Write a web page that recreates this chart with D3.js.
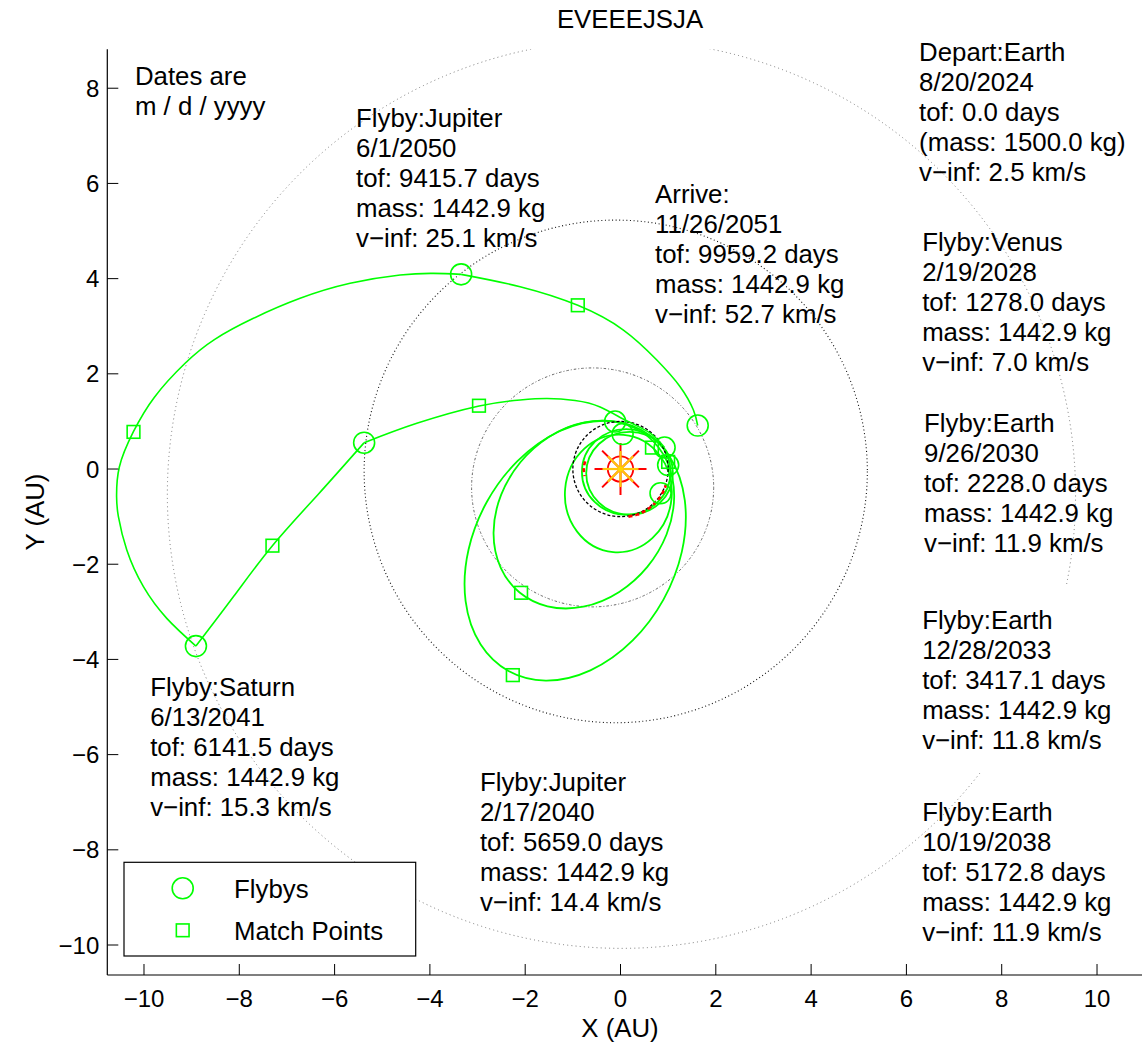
<!DOCTYPE html>
<html>
<head>
<meta charset="utf-8">
<script src="https://cdn.jsdelivr.net/npm/d3@7"></script>
<style>
  body { margin: 0; background: #fff; }
  text { font-family: "Liberation Sans", Arial, Helvetica, sans-serif; fill: #000; }
</style>
</head>
<body>
<svg id="chart" width="1142" height="1046"></svg>
<script>
// ---------------- data (heliocentric ecliptic, AU) ----------------
const title = "EVEEEJSJA";
const xTicks = [-10, -8, -6, -4, -2, 0, 2, 4, 6, 8, 10];
const yTicks = [-10, -8, -6, -4, -2, 0, 2, 4, 6, 8];

// encounter points: departure, flybys, arrival
const encounterX = [0.84, 0.044, 1.0, -0.113, 0.925, -5.38, -8.91, -3.345, 1.62];
const encounterY = [-0.51, 0.735, 0.084, 0.998, 0.452, 0.553, -3.72, 4.09, 0.914];

// leg match points
const matchX = [0.66, 1.0, -2.086, -2.26, -2.97, -7.305, -10.22, -0.896];
const matchY = [0.45, 0.15, -2.6, -4.33, 1.33, -1.61, 0.78, 3.44];

// multi-revolution inner legs, as orbit ellipses: centre, semi-axes, tilt (deg)
const loopCx = [0.19, 0.12, -0.045, -0.769, -0.951];
const loopCy = [-0.09, -0.06, -0.513, -0.957, -1.715];
const loopA = [0.91, 0.93, 1.235, 2.12, 2.888];
const loopB = [0.87, 0.90, 1.122, 1.728, 2.12];
const loopTilt = [0, 0, 85, 50.5, 61];

// outer legs
const legEarthJupiter = [[0.925, 0.452], [0.621, 0.756], [0.139, 1.008], [-0.428, 1.303], [-0.953, 1.439],
  [-1.54, 1.481], [-2.107, 1.45], [-2.967, 1.324], [-4.275, 0.96], [-5.38, 0.553]];
const legJupiterSaturn = [[-5.38, 0.553], [-6.342, -0.529], [-7.305, -1.611], [-8.109, -2.664], [-8.91, -3.72]];
const legSaturnJupiter = [[-8.91, -3.72], [-9.522, -3.137], [-10.012, -2.472], [-10.361, -1.702], [-10.537, -1.002],
  [-10.575, -0.582], [-10.516, 0.048], [-10.222, 0.784], [-9.777, 1.515], [-9.132, 2.227], [-8.515, 2.724],
  [-7.704, 3.166], [-6.724, 3.586], [-5.675, 3.901], [-4.625, 4.076], [-3.926, 4.111], [-3.345, 4.09]];
const legJupiterTarget = [[-3.345, 4.09], [-2.107, 3.83], [-0.896, 3.439], [0.061, 2.92], [0.762, 2.29],
  [1.251, 1.729], [1.53, 1.239], [1.62, 0.914]];

// thrusting arcs of the first leg
const thrustArcs = [
  [[-0.74, 0.16], [-0.765, 0.07], [-0.77, -0.03], [-0.755, -0.15]],
  [[0.166, -1.0], [0.35, -0.958], [0.51, -0.883], [0.656, -0.781], [0.78, -0.655], [0.88, -0.508], [0.97, -0.3]]
];

// body orbits: centre, radii
const earthOrbit = { cx: 0, cy: 0, rx: 1.0, ry: 1.0 };
const targetOrbit = { cx: -0.585, cy: -0.386, rx: 2.54, ry: 2.51 };
const jupiterOrbit = { cx: -0.1, cy: -0.05, rx: 5.28, ry: 5.28 };
// Saturn only moves through part of its orbit during the mission (angles in deg, CCW)
const saturnOrbit = { cx: 0.02, cy: -0.53, r: 9.53, fromDeg: -11.4, toDeg: 322.4 };

// annotation text
const noteLines = [
  ["Dates are", "m / d / yyyy"],
  ["Depart:Earth", "8/20/2024", "tof: 0.0 days", "(mass: 1500.0 kg)", "v\u2212inf: 2.5 km/s"],
  ["Flyby:Venus", "2/19/2028", "tof: 1278.0 days", "mass: 1442.9 kg", "v\u2212inf: 7.0 km/s"],
  ["Flyby:Earth", "9/26/2030", "tof: 2228.0 days", "mass: 1442.9 kg", "v\u2212inf: 11.9 km/s"],
  ["Flyby:Earth", "12/28/2033", "tof: 3417.1 days", "mass: 1442.9 kg", "v\u2212inf: 11.8 km/s"],
  ["Flyby:Earth", "10/19/2038", "tof: 5172.8 days", "mass: 1442.9 kg", "v\u2212inf: 11.9 km/s"],
  ["Flyby:Jupiter", "2/17/2040", "tof: 5659.0 days", "mass: 1442.9 kg", "v\u2212inf: 14.4 km/s"],
  ["Flyby:Saturn", "6/13/2041", "tof: 6141.5 days", "mass: 1442.9 kg", "v\u2212inf: 15.3 km/s"],
  ["Flyby:Jupiter", "6/1/2050", "tof: 9415.7 days", "mass: 1442.9 kg", "v\u2212inf: 25.1 km/s"],
  ["Arrive:", "11/26/2051", "tof: 9959.2 days", "mass: 1442.9 kg", "v\u2212inf: 52.7 km/s"]
];
const legendLabels = ["Flybys", "Match Points"];

// ---------------- layout ----------------
const W = 1142, H = 1046;
const plot = { left: 107.3, top: 49.2, right: 1154.2, bottom: 975 };
// text anchors in axis units (left edge, first baseline)
const noteAnchors = [
  [-10.19, 8.07], [6.266, 8.571], [6.33, 4.58], [6.37, 0.777], [6.33, -3.36],
  [6.33, -7.39], [-2.95, -6.76], [-9.87, -4.77], [-5.55, 7.18], [0.726, 5.59]
];
const fontMain = 25.8, fontTick = 24, lineGap = 30;
const green = "#00ff00";

const svg = d3.select("#chart");
const x = d3.scaleLinear().domain([-10.77, 11.2]).range([plot.left, plot.right]);
const y = d3.scaleLinear().domain([-10.63, 8.82]).range([plot.bottom, plot.top]);
const sx = v => x(v) - x(0);
const sy = v => y(0) - y(v);

svg.append("rect").attr("width", W).attr("height", H).attr("fill", "#fff");

svg.append("defs").append("clipPath").attr("id", "plotClip")
  .append("rect").attr("x", plot.left).attr("y", plot.top)
  .attr("width", plot.right - plot.left).attr("height", plot.bottom - plot.top);

const g = svg.append("g").attr("clip-path", "url(#plotClip)");

// ---- body orbits ----
function orbitEllipse(o, stroke, dash, width) {
  g.append("ellipse")
    .attr("cx", x(o.cx)).attr("cy", y(o.cy))
    .attr("rx", sx(o.rx)).attr("ry", sy(o.ry))
    .attr("fill", "none").attr("stroke", stroke)
    .attr("stroke-width", width).attr("stroke-dasharray", dash);
}
orbitEllipse(jupiterOrbit, "#111", "1,2.6", 1.1);
orbitEllipse(targetOrbit, "#666", "2.5,2,1,2", 1);

{
  const p = d3.path();
  const rad = Math.PI / 180;
  const cx = x(saturnOrbit.cx), cy = y(saturnOrbit.cy), r = sx(saturnOrbit.r);
  const a0 = -saturnOrbit.fromDeg * rad, a1 = -saturnOrbit.toDeg * rad;
  p.moveTo(cx + r * Math.cos(a0), cy + r * Math.sin(a0));
  p.arc(cx, cy, r, a0, a1, true);
  g.append("path").attr("d", p.toString())
    .attr("fill", "none").attr("stroke", "#777")
    .attr("stroke-width", 1).attr("stroke-dasharray", "1,3.2");
}

// ---- trajectory ----
const line = d3.line().x(d => x(d[0])).y(d => y(d[1])).curve(d3.curveNatural);

loopCx.forEach((cx, i) => {
  g.append("ellipse")
    .attr("transform", `translate(${x(cx)},${y(loopCy[i])}) rotate(${-loopTilt[i]})`)
    .attr("rx", sx(loopA[i])).attr("ry", sy(loopB[i]))
    .attr("fill", "none").attr("stroke", green).attr("stroke-width", 1.8);
});

orbitEllipse(earthOrbit, "#000", "3,2", 1.3);

[legEarthJupiter, legJupiterSaturn, legSaturnJupiter, legJupiterTarget].forEach(leg => {
  g.append("path").attr("d", line(leg))
    .attr("fill", "none").attr("stroke", green).attr("stroke-width", 1.6);
});

thrustArcs.forEach(arc => {
  g.append("path").attr("d", line(arc))
    .attr("fill", "none").attr("stroke", "#ff0000")
    .attr("stroke-width", 2.6).attr("stroke-dasharray", "4,3");
});

// ---- Sun ----
{
  const sun = g.append("g").attr("transform", `translate(${x(0)},${y(0)})`);
  const dirs = d3.range(8).map(k => k * Math.PI / 4);
  dirs.forEach(a => {
    sun.append("line").attr("x1", 0).attr("y1", 0)
      .attr("x2", 26 * Math.cos(a)).attr("y2", 26 * Math.sin(a))
      .attr("stroke", "#ff0000").attr("stroke-width", 2);
  });
  sun.append("circle").attr("r", 12.7).attr("fill", "none")
    .attr("stroke", "#ff0000").attr("stroke-width", 1.8);
  dirs.forEach(a => {
    sun.append("line").attr("x1", 0).attr("y1", 0)
      .attr("x2", 18 * Math.cos(a)).attr("y2", 18 * Math.sin(a))
      .attr("stroke", "#ffc40c").attr("stroke-width", 2.2);
  });
  sun.append("circle").attr("r", 2.5).attr("fill", "#ffd700");
}

// ---- markers ----
encounterX.forEach((ex, i) => {
  g.append("circle").attr("cx", x(ex)).attr("cy", y(encounterY[i])).attr("r", 10.5)
    .attr("fill", "none").attr("stroke", green).attr("stroke-width", 1.6);
});
const sq = 12.7;
matchX.forEach((mx, i) => {
  g.append("rect").attr("x", x(mx) - sq / 2).attr("y", y(matchY[i]) - sq / 2)
    .attr("width", sq).attr("height", sq)
    .attr("fill", "none").attr("stroke", green).attr("stroke-width", 1.6);
});

// ---- axes ----
const axes = svg.append("g");
axes.append("line").attr("x1", plot.left).attr("x2", plot.left)
  .attr("y1", plot.top).attr("y2", plot.bottom).attr("stroke", "#000").attr("stroke-width", 1.2);
axes.append("line").attr("x1", plot.left).attr("x2", plot.right)
  .attr("y1", plot.bottom).attr("y2", plot.bottom).attr("stroke", "#000").attr("stroke-width", 1.2);

const fmt = v => (v < 0 ? "\u2212" + Math.abs(v) : String(v));
xTicks.forEach(v => {
  axes.append("line").attr("x1", x(v)).attr("x2", x(v))
    .attr("y1", plot.bottom).attr("y2", plot.bottom - 11).attr("stroke", "#000").attr("stroke-width", 1);
  axes.append("text").attr("x", x(v)).attr("y", plot.bottom + 32)
    .attr("text-anchor", "middle").attr("font-size", fontTick).text(fmt(v));
});
yTicks.forEach(v => {
  axes.append("line").attr("x1", plot.left).attr("x2", plot.left + 11)
    .attr("y1", y(v)).attr("y2", y(v)).attr("stroke", "#000").attr("stroke-width", 1);
  axes.append("text").attr("x", plot.left - 8).attr("y", y(v) + 8.5)
    .attr("text-anchor", "end").attr("font-size", fontTick).text(fmt(v));
});

svg.append("text").attr("x", 620).attr("y", 1037).attr("text-anchor", "middle")
  .attr("font-size", fontMain).text("X (AU)");
svg.append("text").attr("transform", "translate(44,512) rotate(-90)")
  .attr("text-anchor", "middle").attr("font-size", fontMain).text("Y (AU)");
svg.append("text").attr("x", 630).attr("y", 28).attr("text-anchor", "middle")
  .attr("font-size", fontMain).text(title);

// ---- annotations ----
noteLines.forEach((lines, i) => {
  const t = svg.append("text").attr("font-size", fontMain);
  lines.forEach((s, k) => {
    t.append("tspan").attr("x", x(noteAnchors[i][0]))
      .attr("y", y(noteAnchors[i][1]) + k * lineGap).text(s);
  });
});

// ---- legend ----
{
  const lg = svg.append("g");
  lg.append("rect").attr("x", 124).attr("y", 862.3).attr("width", 291.7).attr("height", 93.7)
    .attr("fill", "#fff").attr("stroke", "#000").attr("stroke-width", 1.2);
  lg.append("circle").attr("cx", 182.7).attr("cy", 888.3).attr("r", 10.5)
    .attr("fill", "none").attr("stroke", green).attr("stroke-width", 1.6);
  lg.append("rect").attr("x", 182.7 - sq / 2).attr("y", 930.3 - sq / 2).attr("width", sq).attr("height", sq)
    .attr("fill", "none").attr("stroke", green).attr("stroke-width", 1.6);
  lg.append("text").attr("x", 234).attr("y", 897.5).attr("font-size", fontMain).text(legendLabels[0]);
  lg.append("text").attr("x", 234).attr("y", 939.5).attr("font-size", fontMain).text(legendLabels[1]);
}
</script>
</body>
</html>
